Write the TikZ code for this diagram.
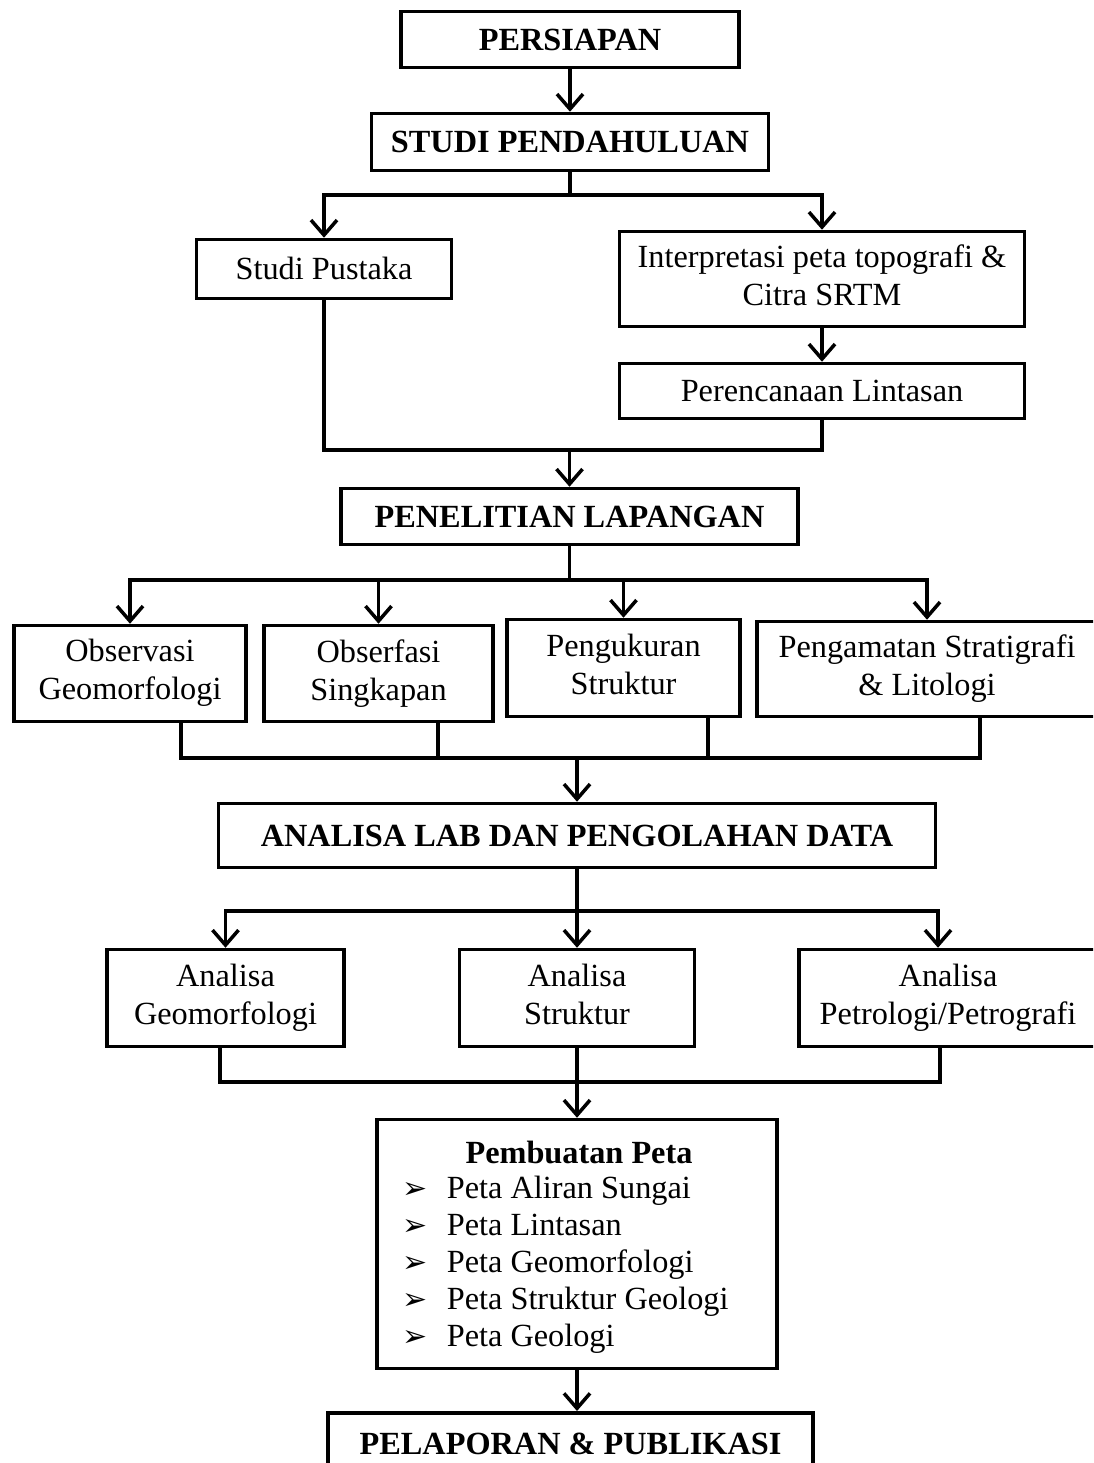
\documentclass[tikz,border=0pt]{standalone}
\usepackage{fontspec}
\setmainfont{Liberation Serif}
\newfontfamily\symfont{DejaVu Sans}
\usetikzlibrary{arrows.meta}

\newcommand{\bul}{{\symfont\fontsize{30}{30}\selectfont ➢}}
\newcommand{\boxstrut}{\rule[-7.6pt]{0pt}{36.6pt}}

\begin{document}
\begin{tikzpicture}[x=1pt, y=-1pt, line width=3.5pt,
    >={Straight Barb[length=15pt, width=26pt, line width=3.5pt]},
    font=\fontsize{32.3}{38}\selectfont,
    box/.style={draw, align=center, inner sep=0pt,
        execute at begin node=\boxstrut, execute at end node=\boxstrut},
    head/.style={box, font=\fontsize{32.3}{38}\selectfont\bfseries}]

    \clip (0,0) rectangle (1093,1463);

    % ===== PERSIAPAN & STUDI =====
    \node[head, minimum width=338, minimum height=56] (persiapan) at (570,39.5) {PERSIAPAN};
    \node[head, minimum width=397, minimum height=57] (studi) at (570,142) {STUDI PENDAHULUAN};
    \draw[->] (persiapan) -- (studi);

    \node[box, minimum width=255, minimum height=59] (pustaka) at (324,269) {Studi Pustaka};
    \node[box, minimum width=405, minimum height=95] (interp) at (822,279)
        {Interpretasi peta topografi \&\\Citra SRTM};
    \node[box, minimum width=405, minimum height=55] (lintasan) at (822,391) {Perencanaan Lintasan};

    \coordinate (j1) at (570,195);
    \draw (studi) -- (j1);
    \draw[->] (j1) -| (pustaka);
    \draw[->] (j1) -| (interp);
    \draw[->] (interp) -- (lintasan);

    % ===== PENELITIAN LAPANGAN =====
    \node[head, minimum width=457, minimum height=56] (lapangan) at (569.5,516.5) {PENELITIAN LAPANGAN};
    \coordinate (j2) at (569.5,450);
    \draw (pustaka) |- (j2);
    \draw (lintasan) |- (j2);
    \draw[->] (j2) -- (lapangan);

    \node[box, minimum width=232, minimum height=96] (obsgeo) at (130,673.5) {Observasi\\Geomorfologi};
    \node[box, minimum width=229, minimum height=96] (singkapan) at (378.5,673.5) {Obserfasi\\Singkapan};
    \node[box, minimum width=233, minimum height=97] (ukur) at (623.5,668) {Pengukuran\\Struktur};
    \node[box, minimum width=340, minimum height=95] (strati) at (927,669) {Pengamatan Stratigrafi\\\& Litologi};

    \coordinate (j3) at (569.5,580);
    \draw (lapangan) -- (j3);
    \foreach \n in {obsgeo, singkapan, ukur, strati}
        \draw[->] (j3) -| (\n);

    % ===== ANALISA LAB =====
    \node[head, minimum width=717, minimum height=64] (lab) at (577,835.5) {ANALISA LAB DAN PENGOLAHAN DATA};
    \coordinate (j4) at (577,758);
    \draw ([xshift=51pt]obsgeo.south) |- (j4);
    \draw ([xshift=59.5pt]singkapan.south) |- (j4);
    \draw ([xshift=84.5pt]ukur.south) |- (j4);
    \draw ([xshift=53pt]strati.south) |- (j4);
    \draw[->] (j4) -- (lab);

    \node[box, minimum width=237, minimum height=97] (angeo) at (225.5,998) {Analisa\\Geomorfologi};
    \node[box, minimum width=235, minimum height=97] (anstruk) at (577,998) {Analisa\\Struktur};
    \node[box, minimum width=298, minimum height=97] (anpetro) at (948,998) {Analisa\\Petrologi/Petrografi};

    \coordinate (j5) at (577,911);
    \draw (lab) -- (j5);
    \draw[->] (j5) -| (angeo);
    \draw[->] (j5) -- (anstruk);
    \draw[->] (j5) -| ([xshift=-10pt]anpetro.north);

    % ===== PEMBUATAN PETA =====
    \node[draw, inner sep=0pt, minimum width=400, minimum height=249] (peta) at (577,1244) {};
    \node[anchor=base, font=\fontsize{32.3}{38}\selectfont\bfseries] (judul) at (579,1163) {Pembuatan Peta};
    \node[anchor=base west, inner sep=0pt] (daftar) at (401,1198) {%
        \begin{tabular}[t]{@{}l@{\hspace{19pt}}l@{}}
            \bul & Peta Aliran Sungai\\[-0.8pt]
            \bul & Peta Lintasan\\[-0.8pt]
            \bul & Peta Geomorfologi\\[-0.8pt]
            \bul & Peta Struktur Geologi\\[-0.8pt]
            \bul & Peta Geologi
        \end{tabular}};

    \coordinate (j6) at (577,1082);
    \draw ([xshift=-5.5pt]angeo.south) |- (j6);
    \draw (anstruk) -- (j6);
    \draw ([xshift=-8pt]anpetro.south) |- (j6);
    \draw[->] (j6) -- (peta);

    % ===== PELAPORAN =====
    \node[head, minimum width=485, minimum height=62, anchor=north] (lapor) at (570.5,1411) {PELAPORAN \& PUBLIKASI};
    \draw[->] (peta) -- (peta.south |- lapor.north);

\end{tikzpicture}
\end{document}
